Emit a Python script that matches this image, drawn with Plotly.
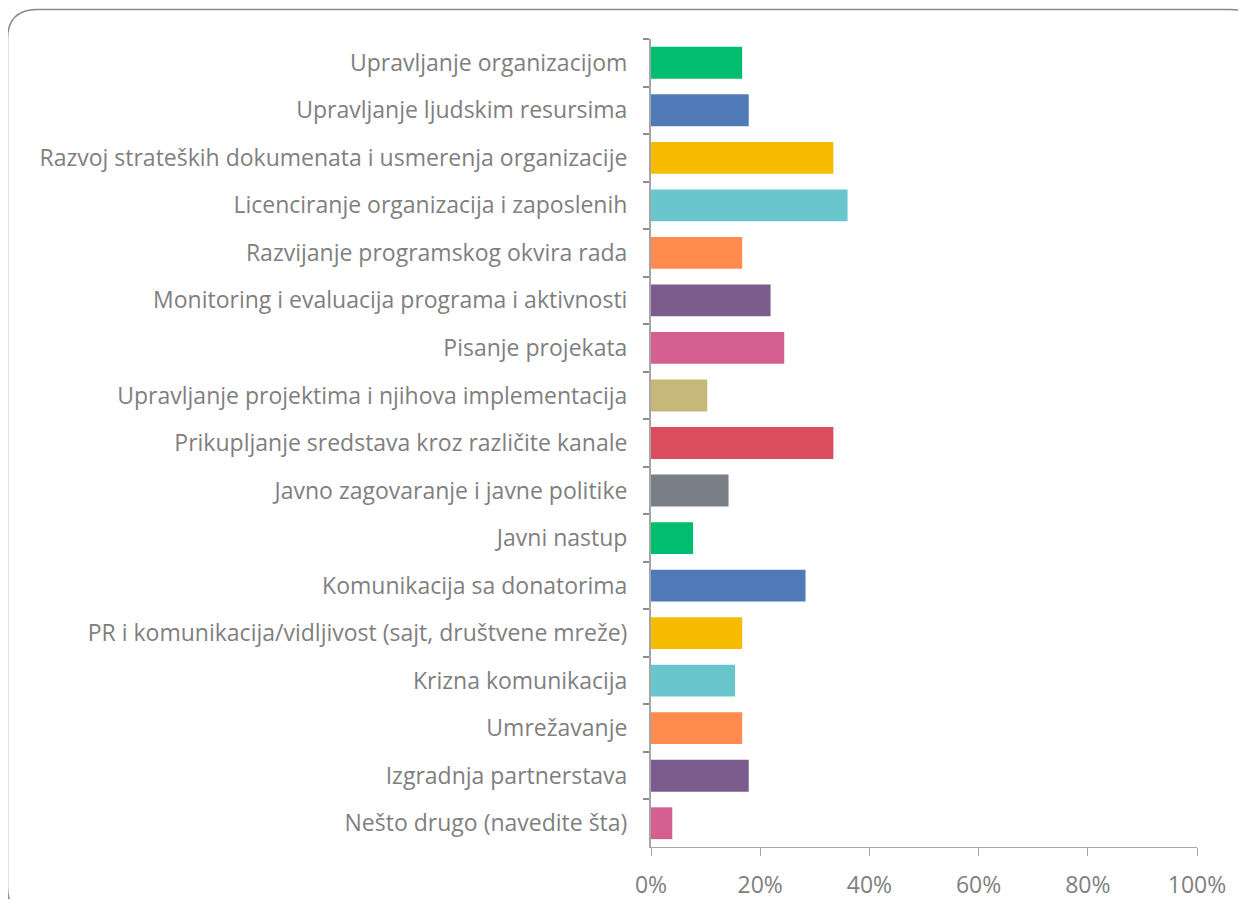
import plotly.graph_objects as go

categories = [
    "Upravljanje organizacijom",
    "Upravljanje ljudskim resursima",
    "Razvoj strateških dokumenata i usmerenja organizacije",
    "Licenciranje organizacija i zaposlenih",
    "Razvijanje programskog okvira rada",
    "Monitoring i evaluacija programa i aktivnosti",
    "Pisanje projekata",
    "Upravljanje projektima i njihova implementacija",
    "Prikupljanje sredstava kroz različite kanale",
    "Javno zagovaranje i javne politike",
    "Javni nastup",
    "Komunikacija sa donatorima",
    "PR i komunikacija/vidljivost (sajt, društvene mreže)",
    "Krizna komunikacija",
    "Umrežavanje",
    "Izgradnja partnerstava",
    "Nešto drugo (navedite šta)",
]
values = [16.7, 17.9, 33.4, 36.0, 16.7, 21.9, 24.4, 10.3, 33.4, 14.2,
          7.7, 28.3, 16.7, 15.4, 16.7, 17.9, 3.9]
colors = ["#00bd70", "#4f7ab7", "#f7bc00", "#6ac6cd", "#ff8b4f", "#7b5c8c",
          "#d45f90", "#c6b879", "#db4d5d", "#787f86",
          "#00bd70", "#4f7ab7", "#f7bc00", "#6ac6cd", "#ff8b4f", "#7b5c8c",
          "#d45f90"]
x_ticks = [0, 20, 40, 60, 80, 100]
x_tick_labels = ["0%", "20%", "40%", "60%", "80%", "100%"]

OFF = 8  # default page body margin
W, H = 1246 - 2 * OFF, 907 - 2 * OFF
L, R, T, B = 651 - OFF, 1197 - OFF, 39 - OFF, 847 - OFF

fig = go.Figure(go.Bar(
    x=[v / 100 for v in values],
    y=categories,
    orientation="h",
    marker=dict(color=colors, line=dict(width=0)),
    hoverinfo="x+y",
))

gray_text = "#7f7f7f"
fig.update_layout(
    width=W, height=H,
    margin=dict(l=L, r=W - R, t=T, b=H - B, pad=0),
    paper_bgcolor="white",
    plot_bgcolor="white",
    bargap=0.33,
    showlegend=False,
    font=dict(family="'Open Sans', sans-serif", size=23, color=gray_text),
    xaxis=dict(
        range=[0, 1],
        tickvals=[t / 100 for t in x_ticks],
        ticktext=x_tick_labels,
        showgrid=False,
        zeroline=False,
        showline=True,
        linecolor="#a6a6a6",
        linewidth=1,
        ticks="outside",
        ticklen=8,
        tickcolor="#a6a6a6",
        tickfont=dict(size=23, color=gray_text),
        ticklabelstandoff=9,
        automargin=False,
        fixedrange=True,
    ),
    yaxis=dict(
        autorange="reversed",
        showgrid=False,
        zeroline=False,
        showline=True,
        linecolor="#a6a6a6",
        linewidth=2,
        ticks="outside",
        tickson="boundaries",
        ticklen=6,
        tickcolor="#8c8c8c",
        tickwidth=2,
        tickfont=dict(size=23, color=gray_text),
        ticklabelstandoff=17,
        automargin=False,
        fixedrange=True,
    ),
)

# Rounded frame around the chart (pixel positions converted to paper units)
def px(xp):
    return (xp - OFF - L) / (R - L)

def py(yp):
    return (B - (yp - OFF)) / (B - T)

x0, x1, y0, y1, r = 7.5, 1261, 9.5, 917, 30
path = (
    f"M {px(x0)} {py(y0 + r)} "
    f"Q {px(x0)} {py(y0)} {px(x0 + r)} {py(y0)} "
    f"L {px(x1 - r)} {py(y0)} "
    f"Q {px(x1)} {py(y0)} {px(x1)} {py(y0 + r)} "
    f"L {px(x1)} {py(y1 - r)} "
    f"Q {px(x1)} {py(y1)} {px(x1 - r)} {py(y1)} "
    f"L {px(x0 + r)} {py(y1)} "
    f"Q {px(x0)} {py(y1)} {px(x0)} {py(y1 - r)} Z"
)
fig.add_shape(type="path", xref="paper", yref="paper", path=path,
              line=dict(color="#8c8c8c", width=1.5), fillcolor="rgba(0,0,0,0)",
              layer="above")

fig.write_html("out.html")
